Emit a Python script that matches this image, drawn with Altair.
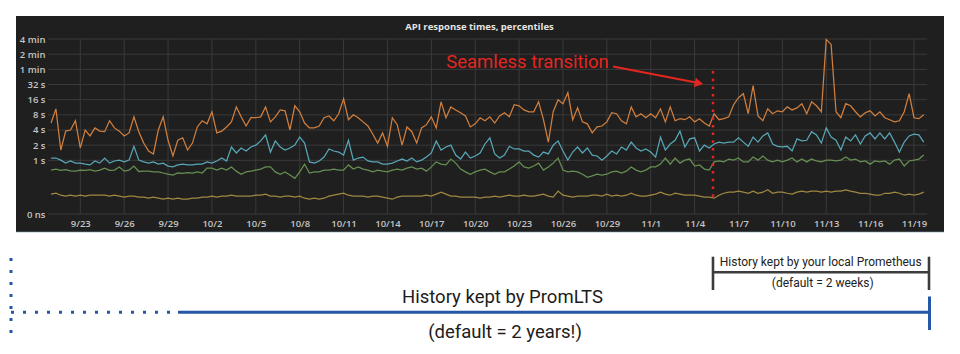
import altair as alt
import pandas as pd

# ---------------- data ----------------
series_names = ["p99", "p90", "p75", "p50"]
series_colors = ["#d07f3e", "#58a6b6", "#668f52", "#a08843"]

p99 = [
    5.5, 10.5, 1.6, 3.8, 4.0, 6.1, 1.76, 4.0, 3.05, 4.4,
    3.8, 3.7, 6.1, 4.4, 3.8, 3.05, 3.5, 7.3, 3.7, 2.2,
    1.53, 1.34, 4.0, 7.3, 2.5, 1.22, 2.5, 2.8, 1.6, 2.2,
    4.6, 6.1, 5.3, 9.2, 3.5, 3.8, 4.6, 5.8, 11.5, 7.3,
    4.8, 7.0, 7.0, 7.3, 11.5, 5.8, 7.3, 10.0, 9.6, 4.0,
    12.1, 9.2, 5.5, 4.4, 4.4, 4.8, 7.0, 7.6, 6.1, 8.4,
    16.7, 6.4, 8.0, 7.0, 5.8, 4.8, 3.3, 2.2, 3.5, 1.9,
    7.0, 5.1, 2.0, 4.6, 3.7, 2.2, 4.4, 5.1, 7.3, 4.4,
    14.5, 7.0, 11.5, 10.0, 8.8, 7.6, 4.6, 5.3, 7.0, 6.1,
    7.3, 5.5, 7.6, 8.8, 7.3, 12.7, 12.1, 10.0, 9.2, 9.2,
    14.5, 6.4, 2.3, 9.2, 15.9, 13.3, 22.0, 6.4, 11.0, 5.8,
    5.3, 3.5, 4.6, 4.8, 5.8, 8.8, 8.4, 6.1, 5.3, 11.5,
    7.3, 8.4, 7.0, 8.4, 7.0, 10.5, 5.8, 11.5, 6.1, 6.7,
    6.4, 7.3, 5.8, 6.7, 5.5, 4.8, 8.4, 6.4, 6.7, 7.3,
    12.7, 17.5, 21.0, 8.4, 30.3, 7.6, 6.1, 10.5, 8.4, 9.6,
    9.2, 11.5, 10.0, 11.0, 13.3, 8.4, 14.5, 12.1, 9.2, 251.0,
    200.0, 9.2, 7.0, 13.3, 12.1, 9.2, 7.3, 8.8, 9.6, 7.6,
    9.2, 7.0, 6.4, 5.8, 6.1, 9.2, 21.0, 7.0, 6.7, 8.0,
]

p90 = [
    1.11, 1.11, 1.01, 0.88, 0.97, 0.88, 0.88, 0.84, 0.81, 0.97,
    0.88, 1.11, 0.88, 0.97, 1.01, 0.93, 1.01, 1.9, 1.01, 0.93,
    0.88, 0.93, 0.84, 0.88, 0.77, 0.74, 0.81, 0.84, 0.81, 0.81,
    0.84, 0.84, 0.93, 0.88, 0.97, 1.11, 0.97, 1.84, 1.40, 1.76,
    1.53, 1.84, 2.0, 2.43, 3.2, 1.46, 2.43, 1.84, 1.6, 1.76,
    2.0, 2.9, 2.2, 0.93, 0.88, 0.97, 1.16, 1.68, 1.53, 1.46,
    1.27, 2.5, 1.01, 1.11, 1.16, 0.97, 0.93, 0.93, 0.84, 0.84,
    0.88, 0.97, 1.06, 0.97, 1.11, 0.93, 1.01, 1.16, 1.40, 2.43,
    1.6, 1.84, 2.0, 1.27, 1.06, 1.46, 1.11, 1.22, 1.40, 2.11,
    2.8, 1.34, 1.11, 1.27, 1.9, 1.68, 1.68, 1.53, 1.53, 1.27,
    1.16, 1.46, 1.34, 2.0, 2.43, 1.53, 1.01, 1.46, 1.84, 1.40,
    1.76, 1.27, 1.22, 1.01, 1.22, 1.53, 1.34, 1.84, 1.6, 2.3,
    1.76, 1.53, 1.68, 1.46, 1.16, 2.9, 1.6, 2.11, 2.5, 3.8,
    1.84, 2.66, 2.8, 1.53, 2.0, 1.76, 2.11, 2.3, 2.2, 2.3,
    2.3, 2.8, 2.3, 1.9, 2.9, 2.3, 3.05, 3.5, 2.11, 1.9,
    1.84, 1.9, 1.53, 2.66, 2.43, 2.5, 3.7, 3.2, 2.2, 4.4,
    2.9, 2.5, 1.6, 2.9, 2.43, 3.2, 2.11, 3.05, 3.5, 2.66,
    3.5, 2.66, 3.5, 2.3, 1.46, 2.3, 3.05, 3.3, 3.2, 2.3,
]

p75 = [
    0.64, 0.67, 0.63, 0.65, 0.62, 0.61, 0.64, 0.63, 0.65, 0.61,
    0.64, 0.70, 0.63, 0.64, 0.74, 0.61, 0.64, 0.77, 0.60, 0.61,
    0.61, 0.59, 0.59, 0.56, 0.53, 0.51, 0.56, 0.55, 0.57, 0.56,
    0.59, 0.56, 0.70, 0.70, 0.64, 0.70, 0.64, 0.74, 0.61, 0.53,
    0.59, 0.61, 0.64, 0.67, 0.74, 0.74, 0.59, 0.53, 0.59, 0.51,
    0.44, 0.59, 0.84, 0.56, 0.59, 0.59, 0.64, 0.64, 0.67, 0.64,
    0.64, 0.81, 0.67, 0.74, 0.67, 0.64, 0.59, 0.64, 0.61, 0.59,
    0.64, 0.67, 0.64, 0.70, 0.74, 0.67, 0.70, 0.61, 0.74, 0.93,
    0.84, 0.81, 1.06, 0.88, 0.67, 0.59, 0.53, 0.59, 0.64, 0.67,
    0.59, 0.53, 0.59, 0.59, 0.67, 0.77, 0.93, 0.74, 0.70, 0.77,
    0.88, 0.64, 0.74, 0.88, 1.11, 0.64, 0.59, 0.61, 0.59, 0.53,
    0.46, 0.49, 0.53, 0.51, 0.53, 0.59, 0.61, 0.56, 0.61, 0.74,
    0.64, 0.59, 0.64, 0.74, 0.74, 0.84, 1.11, 0.84, 1.11, 0.88,
    1.01, 1.06, 0.77, 0.81, 0.67, 0.64, 0.93, 0.97, 0.93, 1.06,
    1.01, 1.11, 0.93, 0.93, 1.16, 1.01, 1.22, 1.01, 0.93, 1.01,
    0.93, 1.01, 1.11, 0.93, 1.06, 0.93, 1.06, 0.97, 0.93, 1.01,
    1.01, 0.97, 1.01, 1.16, 1.01, 1.06, 0.93, 0.97, 0.84, 0.97,
    0.93, 0.97, 0.84, 1.01, 1.06, 0.77, 0.97, 1.01, 1.06, 1.27,
]

p50 = [
    0.213, 0.222, 0.203, 0.194, 0.203, 0.194, 0.203, 0.194, 0.203, 0.203,
    0.203, 0.203, 0.194, 0.203, 0.194, 0.186, 0.194, 0.194, 0.186, 0.186,
    0.177, 0.186, 0.177, 0.169, 0.177, 0.169, 0.177, 0.169, 0.169, 0.177,
    0.177, 0.186, 0.186, 0.194, 0.186, 0.194, 0.194, 0.203, 0.194, 0.194,
    0.194, 0.194, 0.203, 0.203, 0.213, 0.194, 0.194, 0.186, 0.194, 0.194,
    0.186, 0.194, 0.177, 0.169, 0.177, 0.169, 0.177, 0.194, 0.203, 0.213,
    0.222, 0.203, 0.194, 0.194, 0.194, 0.186, 0.194, 0.194, 0.186, 0.177,
    0.169, 0.186, 0.194, 0.194, 0.194, 0.194, 0.194, 0.203, 0.194, 0.213,
    0.233, 0.213, 0.194, 0.194, 0.186, 0.186, 0.186, 0.186, 0.177, 0.186,
    0.186, 0.194, 0.186, 0.194, 0.203, 0.194, 0.194, 0.203, 0.194, 0.194,
    0.203, 0.213, 0.194, 0.186, 0.245, 0.203, 0.194, 0.186, 0.194, 0.194,
    0.194, 0.203, 0.203, 0.194, 0.213, 0.194, 0.203, 0.194, 0.203, 0.222,
    0.203, 0.194, 0.194, 0.203, 0.213, 0.233, 0.213, 0.203, 0.222, 0.213,
    0.203, 0.203, 0.203, 0.194, 0.186, 0.186, 0.177, 0.203, 0.222, 0.233,
    0.233, 0.245, 0.233, 0.222, 0.245, 0.222, 0.233, 0.26, 0.222, 0.233,
    0.233, 0.222, 0.213, 0.233, 0.245, 0.233, 0.245, 0.245, 0.233, 0.245,
    0.233, 0.245, 0.245, 0.26, 0.245, 0.233, 0.222, 0.222, 0.213, 0.203,
    0.203, 0.222, 0.222, 0.233, 0.222, 0.203, 0.213, 0.203, 0.213, 0.233,
]

series_start = "2017-09-21T00:00:00Z"
series_step = "8h"

x_tick_dates = ["2017-09-23", "2017-09-26", "2017-09-29", "2017-10-02", "2017-10-05",
                "2017-10-08", "2017-10-11", "2017-10-14", "2017-10-17", "2017-10-20",
                "2017-10-23", "2017-10-26", "2017-10-29", "2017-11-01", "2017-11-04",
                "2017-11-07", "2017-11-10", "2017-11-13", "2017-11-16", "2017-11-19"]

y_tick_values = [0.086, 1, 2, 4, 8, 16, 32, 64, 128, 256]
y_tick_labels = ["0 ns", "1 s", "2 s", "4 s", "8 s", "16 s", "32 s", "1 min", "2 min", "4 min"]

transition_time = "2017-11-05T06:10:00Z"

title_text = "API response times, percentiles"
annotation_text = "Seamless transition"
local_text = "History kept by your local Prometheus"
local_sub = "(default = 2 weeks)"
lts_text = "History kept by PromLTS"
lts_sub = "(default = 2 years!)"

# ---------------- tables ----------------
times = pd.date_range(series_start, periods=len(p99), freq=series_step)
time_str = [t.strftime("%Y-%m-%dT%H:%M:%SZ") for t in times]
rows = []
for name, vals in zip(series_names, [p99, p90, p75, p50]):
    for t, v in zip(time_str, vals):
        rows.append({"t": t, "v": v, "series": name})
df = pd.DataFrame(rows)

xgrid_df = pd.DataFrame({"t": [d + "T00:00:00Z" for d in x_tick_dates]})
ygrid_df = pd.DataFrame({"v": y_tick_values})
trans_df = pd.DataFrame({"t": [transition_time]})
one = pd.DataFrame({"a": [0]})


def dt(s):
    y, m, d = (int(p) for p in s.split("-"))
    return alt.DateTime(year=y, month=m, date=d, utc=True)


# ---------------- scales / axes ----------------
PANEL = "#1f1f1f"
GRID = "#3a3a3a"
LABEL = "#c4c4c4"
RED = "#e3261f"
BLUE = "#2457a6"
GRAY = "#3c3c3c"

x_scale = alt.Scale(type="utc", domain=[
    alt.DateTime(year=2017, month=9, date=20, hours=19, utc=True),
    alt.DateTime(year=2017, month=11, date=19, hours=21, minutes=20, utc=True)])
x_axis = alt.Axis(values=[dt(s) for s in x_tick_dates],
                  labelExpr="utcFormat(datum.value, '%-m/%-d')",
                  grid=False, domain=False, ticks=False, tickSize=0,
                  labelPadding=4, labelFont="Open Sans", labelFontSize=9.5,
                  labelFontWeight=600, labelColor=LABEL, title=None, zindex=1,
                  labelFlush=False)

label_expr = "[" + ",".join("'%s'" % s for s in y_tick_labels) + "][indexof([" + \
    ",".join(str(v) for v in y_tick_values) + "], datum.value)]"
y_scale = alt.Scale(type="log", base=2, domain=[y_tick_values[0], y_tick_values[-1]], nice=False)
y_axis = alt.Axis(values=y_tick_values, labelExpr=label_expr,
                  grid=False, domain=False, ticks=False, tickSize=0,
                  labelPadding=3, labelFont="Open Sans", labelFontSize=9.5,
                  labelFontWeight=600, labelColor=LABEL, title=None, zindex=1,
                  labelOverlap=False)

X = alt.X("t:T", scale=x_scale, axis=x_axis)
Y = alt.Y("v:Q", scale=y_scale, axis=y_axis)

# ---------------- layers ----------------
panel = alt.Chart(one).mark_rect(color=PANEL).encode(
    x=alt.value(-32), x2=alt.value(896), y=alt.value(-23), y2=alt.value(193))
panel_edge = alt.Chart(one).mark_rule(color="#7f9fae", strokeWidth=1, opacity=0.6).encode(
    x=alt.value(-32), x2=alt.value(896), y=alt.value(193))

xgrid = alt.Chart(xgrid_df).mark_rule(color=GRID, strokeWidth=1).encode(x=X)
ygrid = alt.Chart(ygrid_df).mark_rule(color=GRID, strokeWidth=1).encode(y=Y)

lines = alt.Chart(df).mark_line(strokeWidth=1.25).encode(
    x=X, y=Y,
    color=alt.Color("series:N", scale=alt.Scale(domain=series_names, range=series_colors),
                    legend=None))

trans_rule = alt.Chart(trans_df).mark_rule(color=RED, strokeWidth=2.5,
                                           strokeDash=[2.5, 5.2]).encode(
    x=X, y=alt.value(32), y2=alt.value(162))

title = alt.Chart(one).mark_text(text=title_text, font="Open Sans", fontSize=9.5,
                                 fontWeight="bold", color="#e4e4e4",
                                 align="center", baseline="alphabetic").encode(
    x=alt.value(431.5), y=alt.value(-9.5))

annot = alt.Chart(one).mark_text(text=annotation_text, font="Roboto", fontSize=18.5,
                                 color=RED, align="center", baseline="alphabetic").encode(
    x=alt.value(479.5), y=alt.value(29.3))
arrow = alt.Chart(one).mark_rule(color=RED, strokeWidth=2.2).encode(
    x=alt.value(565), y=alt.value(27.5), x2=alt.value(648), y2=alt.value(43.5))
arrow_head = alt.Chart(one).mark_point(shape="triangle-right", filled=True, size=95,
                                       angle=11, color=RED, opacity=1).encode(
    x=alt.value(651), y=alt.value(44.3))

# bottom: PromLTS history
lts_vdots = alt.Chart(one).mark_rule(color=BLUE, strokeWidth=3, strokeDash=[3, 9]).encode(
    x=alt.value(-37), y=alt.value(219), y2=alt.value(296))
lts_hdots = alt.Chart(one).mark_rule(color=BLUE, strokeWidth=3, strokeDash=[3, 9]).encode(
    x=alt.value(-37), x2=alt.value(128), y=alt.value(273.3))
lts_line = alt.Chart(one).mark_rule(color=BLUE, strokeWidth=3).encode(
    x=alt.value(130), x2=alt.value(882), y=alt.value(273.3))
lts_cap = alt.Chart(one).mark_rule(color=BLUE, strokeWidth=3).encode(
    x=alt.value(881.5), y=alt.value(257.5), y2=alt.value(291))
lts_t1 = alt.Chart(one).mark_text(text=lts_text, font="Roboto", fontSize=18.5,
                                  color="#1c1c1c", align="center", baseline="alphabetic").encode(
    x=alt.value(454.5), y=alt.value(263.7))
lts_t2 = alt.Chart(one).mark_text(text=lts_sub, font="Roboto", fontSize=18.5,
                                  color="#1c1c1c", align="center", baseline="alphabetic").encode(
    x=alt.value(457), y=alt.value(299))

# bottom: local Prometheus history bracket
loc_left = alt.Chart(trans_df).mark_rule(color=GRAY, strokeWidth=2.6).encode(
    x=X, y=alt.value(217.7), y2=alt.value(251))
loc_right = alt.Chart(one).mark_rule(color=GRAY, strokeWidth=2.6).encode(
    x=alt.value(881), y=alt.value(217.7), y2=alt.value(251))
loc_mid = alt.Chart(trans_df).mark_rule(color=GRAY, strokeWidth=2.6).encode(
    x=X, x2=alt.value(881), y=alt.value(233.3))
loc_t1 = alt.Chart(one).mark_text(text=local_text, font="Roboto", fontSize=12,
                                  color="#222222", align="center", baseline="alphabetic").encode(
    x=alt.value(772.7), y=alt.value(227))
loc_t2 = alt.Chart(one).mark_text(text=local_sub, font="Roboto", fontSize=12,
                                  color="#222222", align="center", baseline="alphabetic").encode(
    x=alt.value(774.7), y=alt.value(248))

chart = alt.layer(
    panel, panel_edge, xgrid, ygrid, lines, trans_rule, title, annot, arrow, arrow_head,
    lts_vdots, lts_hdots, lts_line, lts_cap, lts_t1, lts_t2,
    loc_left, loc_right, loc_mid, loc_t1, loc_t2,
).properties(
    width=879, height=175,
    padding={"left": 48, "top": 39, "right": 33, "bottom": 140},
    autosize=alt.AutoSizeParams(type="none"),
    background="white",
).configure_view(stroke="transparent")

chart.save("out.html", embed_options={"renderer": "svg", "actions": False})
